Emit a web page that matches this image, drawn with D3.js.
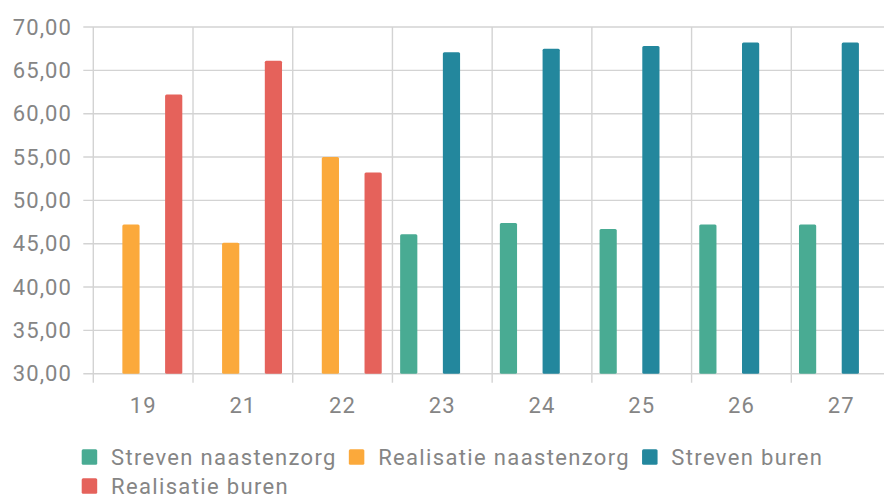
<!DOCTYPE html>
<html>
<head>
<meta charset="utf-8">
<script src="https://cdn.jsdelivr.net/npm/d3@7"></script>
<style>
  body { margin: 0; background: #fff; }
  text { font-family: Roboto, "Liberation Sans", Arial, sans-serif; fill: #858585; letter-spacing: 1.1px; }
  .legend text { letter-spacing: 1.35px; }
</style>
</head>
<body>
<script>
const categories = ["19", "21", "22", "23", "24", "25", "26", "27"];
const seriesNames = ["Streven naastenzorg", "Realisatie naastenzorg", "Streven buren", "Realisatie buren"];
const seriesColors = ["#49ab93", "#fba93b", "#23879d", "#e5625b"];

const strevenNaastenzorg = [null, null, null, 46.1, 47.4, 46.7, 47.2, 47.2];
const realisatieNaastenzorg = [47.2, 45.1, 55.0, null, null, null, null, null];
const strevenBuren = [null, null, null, 67.1, 67.5, 67.8, 68.2, 68.2];
const realisatieBuren = [62.2, 66.1, 53.2, null, null, null, null, null];

const yTicks = [30, 35, 40, 45, 50, 55, 60, 65, 70];

const width = 884;
const height = 496;
const margin = { top: 27, left: 93.3, bottom: 122.3 };
const plotRight = 891;

const seriesValues = [strevenNaastenzorg, realisatieNaastenzorg, strevenBuren, realisatieBuren];

let svg = d3.select('body')
            .append('svg')
            .attr('width', width)
            .attr('height', height);

let x = d3.scaleBand()
          .domain(categories)
          .range([margin.left, plotRight])
          .padding(0);

let xInner = d3.scaleBand()
               .domain(d3.range(seriesNames.length))
               .range([7.7, 89])
               .paddingInner(0.195);

let y = d3.scaleLinear()
          .domain([30, 70])
          .range([height - margin.bottom, margin.top]);

// horizontal grid
svg.append('g')
   .selectAll('line')
   .data(yTicks)
   .enter()
   .append('line')
   .attr('x1', margin.left - 10)
   .attr('x2', width)
   .attr('y1', d => y(d))
   .attr('y2', d => y(d))
   .attr('stroke', '#d3d3d3')
   .attr('stroke-width', 1.4);

// vertical grid + ticks under the axis
let bounds = categories.map(c => x(c)).concat([x(categories[categories.length - 1]) + x.bandwidth()]);
svg.append('g')
   .selectAll('line')
   .data(bounds)
   .enter()
   .append('line')
   .attr('x1', d => d)
   .attr('x2', d => d)
   .attr('y1', margin.top)
   .attr('y2', y(30) + 9)
   .attr('stroke', '#d3d3d3')
   .attr('stroke-width', 1.4);

// y labels
svg.append('g')
   .selectAll('text')
   .data(yTicks)
   .enter()
   .append('text')
   .attr('x', 72)
   .attr('y', d => y(d))
   .attr('dy', '0.35em')
   .attr('text-anchor', 'end')
   .style('font-size', '22px')
   .text(d => d3.format('.2f')(d).replace('.', ','));

// x labels
svg.append('g')
   .selectAll('text')
   .data(categories)
   .enter()
   .append('text')
   .attr('x', d => x(d) + x.bandwidth() / 2)
   .attr('y', 413)
   .attr('text-anchor', 'middle')
   .style('font-size', '22px')
   .text(d => d);

// bars
let barData = [];
categories.forEach((c, i) => {
    seriesValues.forEach((vals, s) => {
        if (vals[i] != null) {
            barData.push({ cat: c, s: s, value: vals[i] });
        }
    });
});

svg.append('g')
   .selectAll('rect')
   .data(barData)
   .enter()
   .append('rect')
   .attr('x', d => x(d.cat) + xInner(d.s))
   .attr('width', xInner.bandwidth())
   .attr('y', d => y(d.value))
   .attr('height', d => y(30) - y(d.value))
   .attr('rx', 1.5)
   .attr('fill', d => seriesColors[d.s]);

// legend, flows left to right and wraps
let legend = svg.append('g').attr('class', 'legend');
let lx = 81.7;
let ly = 457;
const legendMax = 870;
seriesNames.forEach((name, i) => {
    let item = legend.append('g');
    let t = item.append('text')
                .attr('x', 29.3)
                .attr('dy', '0.35em')
                .style('font-size', '22px')
                .text(name);
    let w = 29.3 + t.node().getComputedTextLength();
    if (lx + w > legendMax) {
        lx = 81.7;
        ly += 29;
    }
    item.attr('transform', `translate(${lx},${ly})`);
    item.append('rect')
        .attr('x', 0)
        .attr('y', -7.7)
        .attr('width', 15.5)
        .attr('height', 15.5)
        .attr('rx', 1.5)
        .attr('fill', seriesColors[i]);
    lx += w + 12;
});
</script>
</body>
</html>
